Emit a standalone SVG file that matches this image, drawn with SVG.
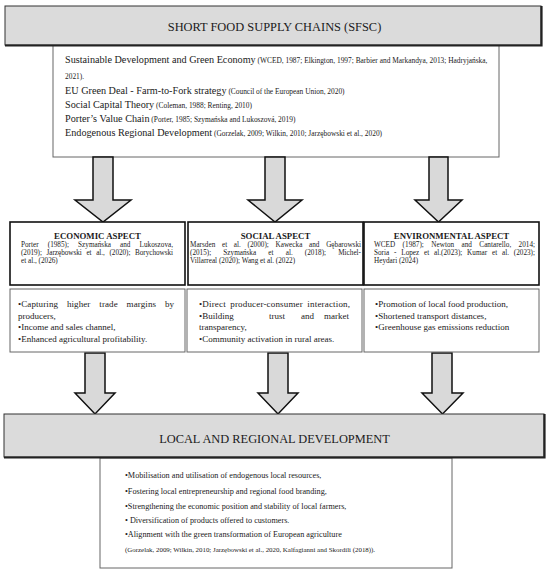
<svg xmlns="http://www.w3.org/2000/svg" width="550" height="575" viewBox="0 0 550 575">
<style>
text{font-family:"Liberation Serif","Times New Roman",serif;fill:#1a1a1a}
.hdr{fill:#dbdbdb;stroke:#333;stroke-width:1}
.shadow{fill:none;stroke:#222;stroke-width:2.2}
.tbox{fill:#fff;stroke:#666;stroke-width:1}
.abox{fill:#fff;stroke:#111;stroke-width:1.6}
.bbox{fill:#fff;stroke:#666;stroke-width:1}
.arrow{fill:#d9d9d9;stroke:#111;stroke-width:1.5;stroke-linejoin:miter}
.title{font-size:12.4px;text-anchor:middle}
.main{font-size:10.2px}
.cit{font-size:7.4px}
.asp{font-size:8.8px;font-weight:bold;text-anchor:middle}
.ref{font-size:7.2px}
.bul{font-size:9px}
.bul2{font-size:8.2px}
.cit2{font-size:6.9px}
</style>
<rect width="550" height="575" fill="#fff"/>

<g id="sfsc-list">
<rect class="tbox" x="53" y="40" width="446" height="117"/>
<text x="65" y="63"><tspan class="main">Sustainable Development and Green Economy</tspan><tspan class="cit"> (WCED, 1987; Elkington, 1997; Barbier and Markandya, 2013; Hadryjańska,</tspan></text>
<text class="cit" x="65" y="79">2021).</text>
<text x="65" y="94"><tspan class="main">EU Green Deal - Farm-to-Fork strategy</tspan><tspan class="cit"> (Council of the European Union, 2020)</tspan></text>
<text x="65" y="107.5"><tspan class="main">Social Capital Theory</tspan><tspan class="cit"> (Coleman, 1988; Renting, 2010)</tspan></text>
<text x="65" y="121.5"><tspan class="main">Porter’s Value Chain</tspan><tspan class="cit"> (Porter, 1985; Szymańska and Lukoszová, 2019)</tspan></text>
<text x="65" y="136"><tspan class="main">Endogenous Regional Development</tspan><tspan class="cit"> (Gorzelak, 2009; Wilkin, 2010; Jarzębowski et al., 2020)</tspan></text>
</g>

<g id="sfsc">
<rect class="hdr" x="5" y="6" width="536" height="39"/>
<polyline class="shadow" points="5,45.5 541.5,45.5 541.5,6"/>
<text class="title" x="274.5" y="31">SHORT FOOD SUPPLY CHAINS (SFSC)</text>
</g>

<g id="connectors">
<polygon class="arrow" points="93,157 113,157 113,200 131,200 103,222 75,200 93,200"/>
<polygon class="arrow" points="265,157 285,157 285,200 302,200 275,222 248,200 265,200"/>
<polygon class="arrow" points="429,157 448,157 448,200 462,200 438.5,222 415,200 429,200"/>
<polygon class="arrow" points="85,353 105,353 105,393 115,393 95,414 75,393 85,393"/>
<polygon class="arrow" points="268,353 288,353 288,393 298,393 278,414 258,393 268,393"/>
<polygon class="arrow" points="432,353 452,353 452,393 463,393 442.5,414 422,393 432,393"/>
</g>

<g id="economic">
<rect class="abox" x="10" y="222" width="175" height="63"/>
<text class="asp" x="97.5" y="238.5">ECONOMIC ASPECT</text>
<text class="ref" x="21" y="247" word-spacing="7.3" textLength="152" lengthAdjust="spacing">Porter (1985); Szymańska and Lukoszova,</text>
<text class="ref" x="21" y="255" word-spacing="2.9" textLength="152" lengthAdjust="spacing">(2019); Jarzębowski et al., (2020); Borychowski</text>
<text class="ref" x="21" y="263">et al., (2026)</text>
</g>

<g id="social">
<rect class="abox" x="188" y="222" width="175" height="63"/>
<text class="asp" x="275.5" y="238.5">SOCIAL ASPECT</text>
<text class="ref" x="190" y="247" word-spacing="4.9" textLength="171" lengthAdjust="spacing">Marsden et al. (2000); Kawecka and Gębarowski</text>
<text class="ref" x="190" y="255" word-spacing="10.4" textLength="171" lengthAdjust="spacing">(2015); Szymańska et al. (2018); Michel-</text>
<text class="ref" x="190" y="263">Villarreal (2020); Wang et al. (2022)</text>
</g>

<g id="environmental">
<rect class="abox" x="364" y="222" width="175" height="63"/>
<text class="asp" x="451.5" y="238.5">ENVIRONMENTAL ASPECT</text>
<text class="ref" x="374" y="247" word-spacing="5.6" textLength="161" lengthAdjust="spacing">WCED (1987); Newton and Cantarello, 2014;</text>
<text class="ref" x="374" y="255" word-spacing="3" textLength="161" lengthAdjust="spacing">Soria - Lopez et al.(2023); Kumar et al. (2023);</text>
<text class="ref" x="374" y="263">Heydari (2024)</text>
</g>

<g id="economic-effects">
<rect class="bbox" x="10" y="289" width="175" height="63"/>
<text class="bul" x="18" y="307" word-spacing="6.5" textLength="156" lengthAdjust="spacing">•Capturing higher trade margins by</text>
<text class="bul" x="18" y="318.5">producers,</text>
<text class="bul" x="18" y="330">•Income and sales channel,</text>
<text class="bul" x="18" y="341.5">•Enhanced agricultural profitability.</text>
</g>

<g id="social-effects">
<rect class="bbox" x="187" y="289" width="175" height="63"/>
<text class="bul" x="199" y="307" word-spacing="2" textLength="151" lengthAdjust="spacing">•Direct producer-consumer interaction,</text>
<text class="bul" y="318.5"><tspan x="199">•Building</tspan><tspan x="269">trust</tspan><tspan x="301">and</tspan><tspan x="324">market</tspan></text>
<text class="bul" x="199" y="330">transparency,</text>
<text class="bul" x="199" y="341.5">•Community activation in rural areas.</text>
</g>

<g id="environmental-effects">
<rect class="bbox" x="364" y="289" width="175" height="63"/>
<text class="bul" x="375" y="307">•Promotion of local food production,</text>
<text class="bul" x="375" y="318.5">•Shortened transport distances,</text>
<text class="bul" x="375" y="330">•Greenhouse gas emissions reduction</text>
</g>

<g id="development-effects">
<rect class="bbox" x="100" y="458" width="352" height="110"/>
<text class="bul2" x="125" y="478">•Mobilisation and utilisation of endogenous local resources,</text>
<text class="bul2" x="125" y="494">•Fostering local entrepreneurship and regional food branding,</text>
<text class="bul2" x="125" y="509">•Strengthening the economic position and stability of local farmers,</text>
<text class="bul2" x="125" y="523">• Diversification of products offered to customers.</text>
<text class="bul2" x="125" y="537">•Alignment with the green transformation of European agriculture</text>
<text class="cit2" x="125" y="552">(Gorzelak, 2009; Wilkin, 2010; Jarzębowski et al., 2020, Kalfagianni and Skordili (2018)).</text>
</g>

<g id="local-development">
<rect class="hdr" x="4" y="414" width="540" height="43"/>
<polyline class="shadow" points="4,457.5 544.5,457.5 544.5,414"/>
<text class="title" x="274.5" y="443">LOCAL AND REGIONAL DEVELOPMENT</text>
</g>
</svg>
